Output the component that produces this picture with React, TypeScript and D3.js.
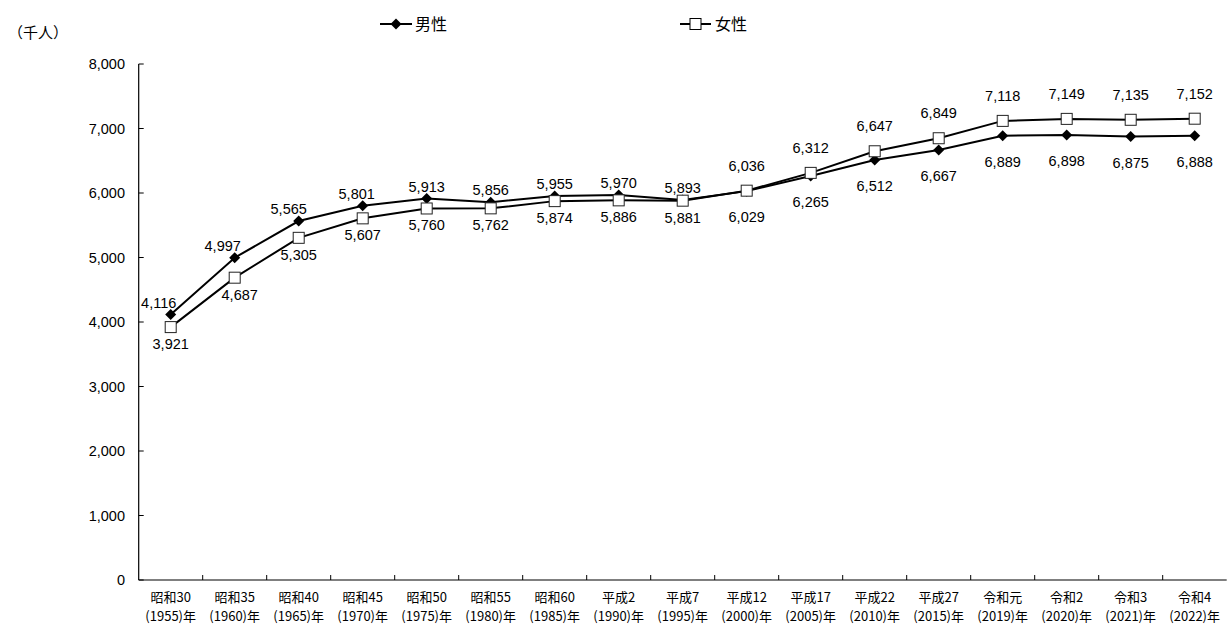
import React from "react";
import * as d3 from "d3";

const eraLabels = ["昭和30","昭和35","昭和40","昭和45","昭和50","昭和55","昭和60","平成2","平成7","平成12","平成17","平成22","平成27","令和元","令和2","令和3","令和4"];
const yearLabels = ["(1955)年","(1960)年","(1965)年","(1970)年","(1975)年","(1980)年","(1985)年","(1990)年","(1995)年","(2000)年","(2005)年","(2010)年","(2015)年","(2019)年","(2020)年","(2021)年","(2022)年"];
const male = [4116,4997,5565,5801,5913,5856,5955,5970,5893,6029,6265,6512,6667,6889,6898,6875,6888];
const female = [3921,4687,5305,5607,5760,5762,5874,5886,5881,6036,6312,6647,6849,7118,7149,7135,7152];
const yTicks = [0,1000,2000,3000,4000,5000,6000,7000,8000];
// label placement: male above for earlier points, below later
const maleAbove = [true,true,true,true,true,true,true,true,true,false,false,false,false,false,false,false,false];

const W = 1228, H = 625;
const left = 138.7, right = 1226.7, top = 64, bottom = 580;
const numFont = "'Liberation Sans', Arial, sans-serif";
const jpFont = "'Noto Sans CJK JP', sans-serif";

export default function App() {
  const x = d3.scaleBand<number>().domain(d3.range(eraLabels.length)).range([left, right]).padding(0);
  const y = d3.scaleLinear().domain([0, 8000]).range([bottom, top]);
  const cx = (i: number) => (x(i) as number) + x.bandwidth() / 2;
  const fmt = d3.format(",");
  const line = d3.line<number>().x((_, i) => cx(i)).y((d) => y(d));
  const diamond = (px: number, py: number, r = 5.5) => `M${px},${py - r}L${px + r},${py}L${px},${py + r}L${px - r},${py}Z`;

  return (
    <svg width={W} height={H} style={{ position: "absolute", left: 0, top: 0, background: "#fff" }}>
      <rect x={0} y={0} width={W} height={H} fill="#fff" />
      {/* unit */}
      <text x={8} y={38} fontFamily={jpFont} fontSize={15} fill="#000">（千人）</text>
      {/* legend */}
      <g>
        <line x1={380} x2={412} y1={24} y2={24} stroke="#000" strokeWidth={2} />
        <path d={diamond(396, 24, 5.5)} fill="#000" />
        <text x={415} y={30} fontFamily={jpFont} fontSize={16} fill="#000">男性</text>
        <line x1={680} x2={711} y1={24} y2={24} stroke="#000" strokeWidth={2} />
        <rect x={690} y={18.5} width={11} height={11} fill="#fff" stroke="#000" strokeWidth={1} />
        <text x={715} y={30} fontFamily={jpFont} fontSize={16} fill="#000">女性</text>
      </g>
      {/* y axis */}
      <line x1={left} x2={left} y1={top} y2={bottom} stroke="#000" strokeWidth={1.2} />
      {yTicks.map((t) => (
        <g key={t}>
          <line x1={left} x2={left + 5} y1={y(t)} y2={y(t)} stroke="#000" strokeWidth={1} />
          <text x={125} y={y(t) + 5} textAnchor="end" fontFamily={numFont} fontSize={14.5} fill="#000">{fmt(t)}</text>
        </g>
      ))}
      {/* x axis */}
      <line x1={left} x2={right} y1={bottom} y2={bottom} stroke="#000" strokeWidth={1.2} />
      {d3.range(1, eraLabels.length).map((i) => (
        <line key={i} x1={x(i) as number} x2={x(i) as number} y1={bottom} y2={bottom - 5} stroke="#000" strokeWidth={1} />
      ))}
      {eraLabels.map((l, i) => (
        <g key={l}>
          <text x={cx(i)} y={602} textAnchor="middle" fontFamily={jpFont} fontSize={13} fill="#000">{l}</text>
          <text x={cx(i)} y={621} textAnchor="middle" fontFamily={jpFont} fontSize={13} fill="#000">{yearLabels[i]}</text>
        </g>
      ))}
      {/* male series */}
      <path d={line(male) as string} fill="none" stroke="#000" strokeWidth={2} />
      {male.map((v, i) => (
        <path key={i} d={diamond(cx(i), y(v))} fill="#000" />
      ))}
      {/* female series */}
      <path d={line(female) as string} fill="none" stroke="#000" strokeWidth={2} />
      {female.map((v, i) => (
        <rect key={i} x={cx(i) - 5.5} y={y(v) - 5.5} width={11} height={11} fill="#fff" stroke="#222" strokeWidth={1} />
      ))}
      {/* labels */}
      {male.map((v, i) => (
        <text key={"m" + i} x={cx(i) - (i === 0 ? 12 : i === 1 ? 12 : i === 2 ? 10 : i === 3 ? 6 : 0)} y={maleAbove[i] ? y(v) - 7 : y(v) + 31} textAnchor="middle" fontFamily={numFont} fontSize={14.5} fill="#000">{fmt(v)}</text>
      ))}
      {female.map((v, i) => (
        <text key={"f" + i} x={cx(i) + (i === 1 ? 5 : 0)} y={maleAbove[i] ? y(v) + 22 : y(v) - 20} textAnchor="middle" fontFamily={numFont} fontSize={14.5} fill="#000">{fmt(v)}</text>
      ))}
    </svg>
  );
}
